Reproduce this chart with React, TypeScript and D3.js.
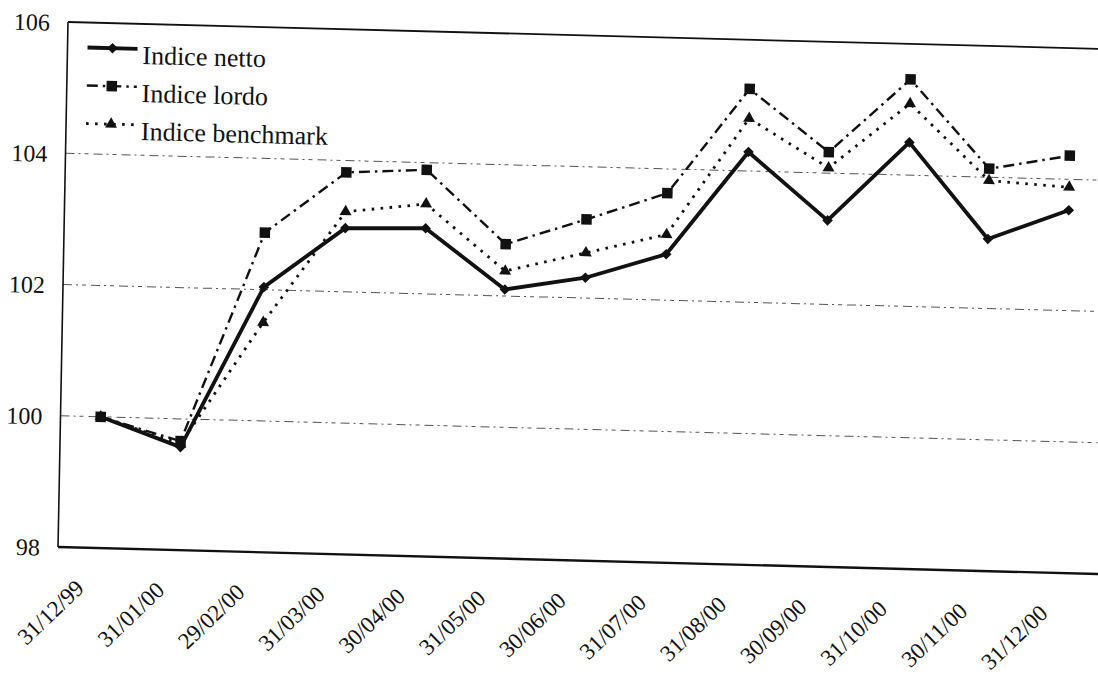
import React from "react";
import * as d3 from "d3";

// Monthly index levels (base 100 at 31/12/99)
const categories = [
  "31/12/99", "31/01/00", "29/02/00", "31/03/00", "30/04/00", "31/05/00", "30/06/00",
  "31/07/00", "31/08/00", "30/09/00", "31/10/00", "30/11/00", "31/12/00",
];
const indiceNetto = [100, 99.57, 102.04, 102.97, 103.0, 102.1, 102.31, 102.7, 104.29, 103.28, 104.5, 103.06, 103.53];
const indiceLordo = [100, 99.66, 102.87, 103.82, 103.89, 102.79, 103.2, 103.63, 105.25, 104.32, 105.46, 104.13, 104.36];
const indiceBenchmark = [100, 99.62, 101.5, 103.22, 103.37, 102.38, 102.69, 103.0, 104.8, 104.08, 105.09, 103.95, 103.88];
const yTicks = [98, 100, 102, 104, 106];
const seriesNames = ["Indice netto", "Indice lordo", "Indice benchmark"];

const W = 1044;
const H = 525;
const FONT = "Liberation Serif, Times New Roman, serif";

type SeriesDef = {
  name: string;
  values: number[];
  dash: string | undefined;
  width: number;
  marker: "diamond" | "square" | "triangle";
};

const series: SeriesDef[] = [
  { name: seriesNames[1], values: indiceLordo, dash: "11 5 2.5 5", width: 2.4, marker: "square" },
  { name: seriesNames[2], values: indiceBenchmark, dash: "2.6 6.4", width: 2.8, marker: "triangle" },
  { name: seriesNames[0], values: indiceNetto, dash: undefined, width: 3.8, marker: "diamond" },
];

function markerPath(kind: SeriesDef["marker"]): string {
  if (kind === "square") return d3.symbol(d3.symbolSquare, 110)() as string;
  if (kind === "triangle") return d3.symbol(d3.symbolTriangle, 62)() as string;
  return d3.symbol(d3.symbolSquare, 56)() as string;
}

export default function App() {
  const x = d3.scaleBand<string>().domain(categories).range([0, W]);
  const cx = (c: string) => (x(c) as number) + x.bandwidth() / 2;
  const y = d3.scaleLinear().domain([98, 106]).range([H, 0]);

  const line = d3
    .line<number>()
    .x((_, i) => cx(categories[i]))
    .y((v) => y(v));

  const legendOrder = [
    { def: series[2], row: 0 },
    { def: series[0], row: 1 },
    { def: series[1], row: 2 },
  ];

  return (
    <svg
      width={1098}
      height={677}
      style={{ position: "absolute", left: 0, top: 0, background: "#fff", fontFamily: FONT }}
    >
      <g transform="matrix(1 0.026 -0.019 1 68 22)" style={{ fontFamily: FONT }} fill="#111">
        {/* horizontal gridlines */}
        {yTicks
          .filter((t) => t > 98 && t < 106)
          .map((t) => (
            <line
              key={`g${t}`}
              x1={0}
              x2={W}
              y1={y(t)}
              y2={y(t)}
              stroke="#555"
              strokeWidth={1}
              strokeDasharray="9 4 2 4 4 5"
            />
          ))}
        {/* plot frame */}
        <line x1={0} x2={W} y1={0} y2={0} stroke="#111" strokeWidth={1.8} />
        <line x1={0} x2={0} y1={0} y2={H} stroke="#111" strokeWidth={1.6} />
        <line x1={0} x2={W} y1={H} y2={H} stroke="#111" strokeWidth={2.4} />

        {/* y tick labels */}
        {yTicks.map((t) => (
          <text key={`y${t}`} x={-18} y={y(t)} dy="0.38em" textAnchor="end" fontSize={24}>
            {t}
          </text>
        ))}

        {/* x tick labels */}
        {categories.map((c) => {
          const ax = cx(c) - 12;
          const ay = H + 42;
          return (
            <text
              key={`x${c}`}
              x={ax}
              y={ay}
              textAnchor="end"
              fontSize={23}
              transform={`rotate(-45 ${ax} ${ay})`}
            >
              {c}
            </text>
          );
        })}

        {/* series lines and markers */}
        {series.map((s) => (
          <g key={s.name}>
            <path
              d={line(s.values) as string}
              fill="none"
              stroke="#111"
              strokeWidth={s.width}
              strokeDasharray={s.dash}
              strokeLinejoin="round"
              strokeLinecap={s.dash ? "butt" : "round"}
            />
            {s.values.map((v, i) => (
              <path
                key={i}
                d={markerPath(s.marker)}
                transform={`translate(${cx(categories[i])},${y(v)})${s.marker === "diamond" ? " rotate(45)" : ""}`}
                fill="#111"
              />
            ))}
          </g>
        ))}

        {/* legend */}
        {legendOrder.map(({ def, row }) => {
          const ly = 25 + row * 38;
          return (
            <g key={`l${def.name}`}>
              <line
                x1={20}
                x2={70}
                y1={ly}
                y2={ly}
                stroke="#111"
                strokeWidth={def.width}
                strokeDasharray={def.dash}
              />
              <path
                d={markerPath(def.marker)}
                transform={`translate(45,${ly})${def.marker === "diamond" ? " rotate(45)" : ""}`}
                fill="#111"
              />
              <text x={75} y={ly + 15} fontSize={26}>
                {def.name}
              </text>
            </g>
          );
        })}
      </g>
    </svg>
  );
}
